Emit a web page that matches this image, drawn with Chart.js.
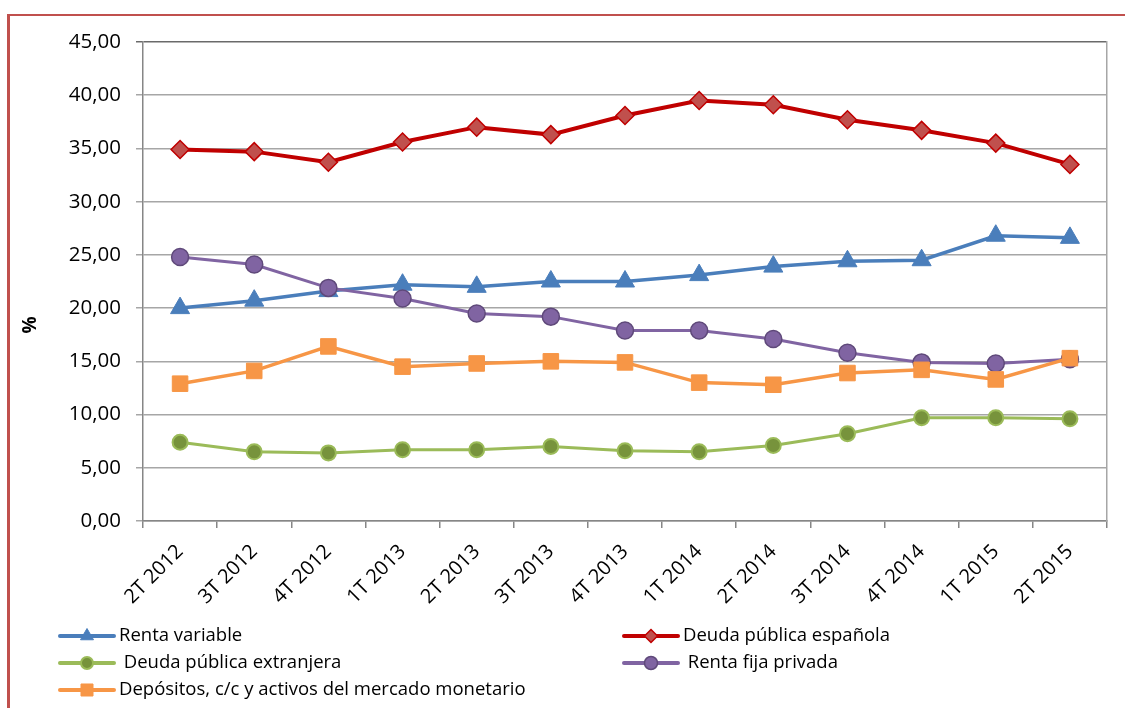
<!DOCTYPE html>
<html>
<head>
<meta charset="utf-8">
<script src="https://cdn.jsdelivr.net/npm/chart.js@4"></script>
<style>
  html, body { margin: 0; padding: 0; background: #fff; }
  #wrap { position: relative; width: 1125px; height: 708px; overflow: hidden; }
  #frame { position: absolute; left: 7px; top: 14px; right: -10px; bottom: -10px;
           border-top: 2px solid #c0504d; border-left: 3px solid #c0504d; pointer-events: none; }
  canvas { position: absolute; left: 0; top: 0; }
</style>
</head>
<body>
<div id="wrap">
  <canvas id="c" width="1125" height="708"></canvas>
  <div id="frame"></div>
</div>
<script>
const categories = ["2T 2012","3T 2012","4T 2012","1T 2013","2T 2013","3T 2013","4T 2013","1T 2014","2T 2014","3T 2014","4T 2014","1T 2015","2T 2015"];
const rentaVariable = [20.0, 20.7, 21.6, 22.2, 22.0, 22.5, 22.5, 23.1, 23.9, 24.4, 24.5, 26.8, 26.6];
const deudaEspanola = [34.9, 34.7, 33.7, 35.6, 37.0, 36.3, 38.1, 39.5, 39.1, 37.7, 36.7, 35.5, 33.5];
const deudaExtranjera = [7.4, 6.5, 6.4, 6.7, 6.7, 7.0, 6.6, 6.5, 7.1, 8.2, 9.7, 9.7, 9.6];
const rentaFijaPrivada = [24.8, 24.1, 21.9, 20.9, 19.5, 19.2, 17.9, 17.9, 17.1, 15.8, 14.9, 14.8, 15.2];
const depositos = [12.9, 14.1, 16.4, 14.5, 14.8, 15.0, 14.9, 13.0, 12.8, 13.9, 14.2, 13.3, 15.3];
const yTicks = [0, 5, 10, 15, 20, 25, 30, 35, 40, 45];
const yTitle = "%";

const FONT = "'Open Sans', sans-serif";

const datasets = [
  { label: "Renta variable", data: rentaVariable, order: 5, borderColor: "#4a7ebb", backgroundColor: "#4a7ebb",
    borderWidth: 3.5, pointStyle: "triangle", pointRadius: 11, pointBackgroundColor: "#4a7ebb",
    pointBorderColor: "#4a7ebb", pointBorderWidth: 1, legend: { x: 60, y: 636, text: "Renta variable", r: 7.5 } },
  { label: "Deuda pública española", data: deudaEspanola, order: 4, borderColor: "#c00000", backgroundColor: "#c0504d",
    borderWidth: 4, pointStyle: "rectRot", pointRadius: 9, pointBackgroundColor: "#c0504d",
    pointBorderColor: "#c00000", pointBorderWidth: 1.5, legend: { x: 624, y: 636, text: "Deuda pública española", r: 6.5 } },
  { label: "Deuda pública extranjera", data: deudaExtranjera, order: 3, borderColor: "#9bbb59", backgroundColor: "#77933c",
    borderWidth: 3, pointStyle: "circle", pointRadius: 7.5, pointBackgroundColor: "#77933c",
    pointBorderColor: "#9bbb59", pointBorderWidth: 2, legend: { x: 60, y: 663, text: " Deuda pública extranjera", r: 6 } },
  { label: "Renta fija privada", data: rentaFijaPrivada, order: 2, borderColor: "#8064a2", backgroundColor: "#8064a2",
    borderWidth: 3, pointStyle: "circle", pointRadius: 8.5, pointBackgroundColor: "#8064a2",
    pointBorderColor: "#5f497a", pointBorderWidth: 1.5, legend: { x: 624, y: 663, text: " Renta fija privada", r: 6.5 } },
  { label: "Depósitos, c/c y activos del mercado monetario", data: depositos, order: 1, borderColor: "#f79646", backgroundColor: "#f79646",
    borderWidth: 3.5, pointStyle: "rect", pointRadius: 11, pointBackgroundColor: "#f79646",
    pointBorderColor: "#f79646", pointBorderWidth: 1, legend: { x: 60, y: 690, text: "Depósitos, c/c y activos del mercado monetario", r: 8.5 } }
];

const customLegend = {
  id: "customLegend",
  afterDraw(chart) {
    const ctx = chart.ctx;
    ctx.save();
    chart.data.datasets.forEach(ds => {
      const L = ds.legend;
      const x1 = L.x, x2 = L.x + 54, mid = (x1 + x2) / 2;
      ctx.strokeStyle = ds.borderColor;
      ctx.lineWidth = 4;
      ctx.lineCap = "round";
      ctx.beginPath(); ctx.moveTo(x1, L.y); ctx.lineTo(x2, L.y); ctx.stroke();
      ctx.lineCap = "butt";
      ctx.fillStyle = ds.pointBackgroundColor;
      ctx.strokeStyle = ds.pointBorderColor;
      ctx.lineWidth = ds.pointBorderWidth;
      Chart.helpers.drawPoint(ctx, { pointStyle: ds.pointStyle, radius: L.r, rotation: 0, borderWidth: ds.pointBorderWidth }, mid, L.y);
      ctx.fillStyle = "#000";
      ctx.font = "18.5px " + FONT;
      ctx.textBaseline = "middle";
      ctx.textAlign = "left";
      ctx.fillText(L.text, x2 + 5, L.y);
    });
    // y-axis title
    ctx.translate(31, 325);
    ctx.rotate(-Math.PI / 2);
    ctx.font = "bold 19px " + FONT;
    ctx.textAlign = "center";
    ctx.textBaseline = "middle";
    ctx.fillStyle = "#000";
    ctx.fillText(yTitle, 0, 0);
    ctx.restore();
  }
};

new Chart(document.getElementById("c"), {
  type: "line",
  data: { labels: categories, datasets: datasets },
  plugins: [customLegend],
  options: {
    responsive: false,
    animation: false,
    events: [],
    layout: { padding: { top: 42, right: 18, bottom: 87, left: 0 } },
    plugins: { legend: { display: false }, tooltip: { enabled: false } },
    elements: { line: { tension: 0 } },
    scales: {
      x: {
        type: "category",
        offset: true,
        afterFit: s => { s.height = 100; },
        grid: { offset: true, drawOnChartArea: false, drawTicks: true, tickLength: 7, color: "#868686", lineWidth: 1.5 },
        border: { display: true, color: "#868686", width: 1.5 },
        ticks: { autoSkip: false, maxRotation: 45, minRotation: 45, padding: 12, color: "#000", font: { family: FONT, size: 20 } }
      },
      y: {
        min: 0, max: 45,
        afterFit: s => { s.width = 143; },
        afterBuildTicks: s => { s.ticks = yTicks.map(v => ({ value: v })); },
        grid: {
          color: c => (c.tick && c.tick.value === 45) ? "#6a6a6a" : "#a6a6a6",
          lineWidth: 1.5, tickLength: 7, drawTicks: true
        },
        border: { display: true, color: "#868686", width: 1.5 },
        ticks: {
          padding: 15, color: "#000", font: { family: FONT, size: 20.5 },
          callback: v => v.toFixed(2).replace(".", ",")
        }
      },
      y2: {
        position: "right", min: 0, max: 45,
        afterFit: s => { s.width = 0; },
        grid: { drawOnChartArea: false, drawTicks: false },
        border: { display: true, color: "#a6a6a6", width: 1.5 },
        ticks: { display: false }
      }
    }
  }
});
</script>
</body>
</html>
